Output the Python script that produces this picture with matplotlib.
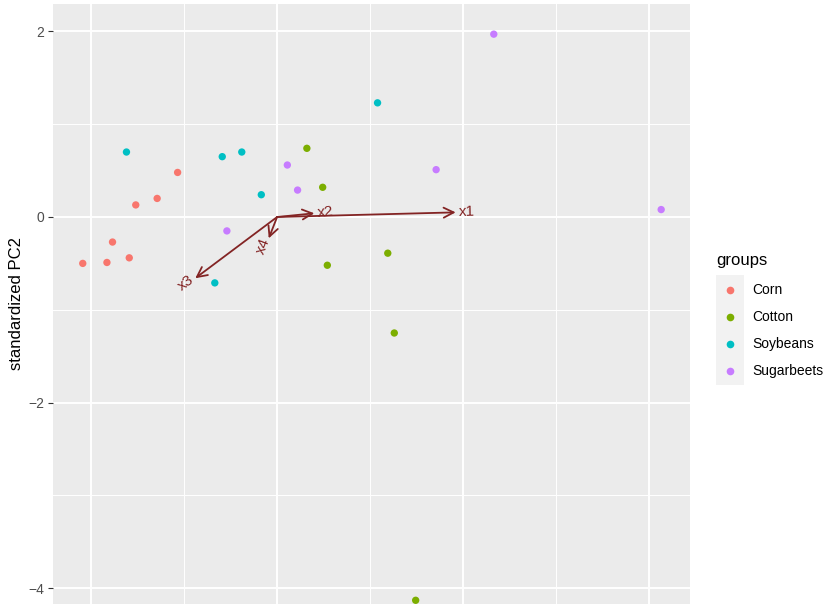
import numpy as np
import matplotlib
matplotlib.use("Agg")
import matplotlib.pyplot as plt
from matplotlib.lines import Line2D
from matplotlib.patches import Rectangle

plt.rcParams["font.family"] = ["Liberation Sans", "DejaVu Sans"]

# PC scores per group (standardized PC1, PC2)
groups = ["Corn", "Cotton", "Soybeans", "Sugarbeets"]
colors = ["#F8766D", "#7CAE00", "#00BFC4", "#C77CFF"]

corn_x = [-2.09, -1.83, -1.77, -1.59, -1.52, -1.29, -1.07]
corn_y = [-0.50, -0.49, -0.27, -0.44, 0.13, 0.20, 0.48]
cotton_x = [0.32, 0.49, 0.54, 1.19, 1.26, 1.49]
cotton_y = [0.74, 0.32, -0.52, -0.39, -1.25, -4.13]
soy_x = [-1.62, -0.59, -0.38, -0.17, -0.67, 1.08]
soy_y = [0.70, 0.65, 0.70, 0.24, -0.71, 1.23]
sugar_x = [-0.54, 0.11, 0.22, 1.71, 2.33, 4.13]
sugar_y = [-0.15, 0.56, 0.29, 0.51, 1.97, 0.08]

# variable loadings (arrows)
var_names = ["x1", "x2", "x3", "x4"]
var_x = [1.92, 0.40, -0.88, -0.09]
var_y = [0.05, 0.04, -0.66, -0.23]

xs = [corn_x, cotton_x, soy_x, sugar_x]
ys = [corn_y, cotton_y, soy_y, sugar_y]

W, H = 829, 604
fig = plt.figure(figsize=(W / 100, H / 100), dpi=100)
ax = fig.add_axes([53 / W, 0, 637 / W, 600 / H])
ax.set_facecolor("#EBEBEB")
for s in ax.spines.values():
    s.set_visible(False)

ax.set_xlim(-2.41, 4.44)
ax.set_ylim(-4.17, 2.295)

ax.set_xticks([-2, 0, 2, 4])
ax.set_xticks([-1, 1, 3], minor=True)
ax.set_yticks([-4, -2, 0, 2])
ax.set_yticks([-3, -1, 1], minor=True)
ax.set_yticklabels(["\u22124", "\u22122", "0", "2"])
ax.grid(True, which="major", color="white", lw=1.4)
ax.grid(True, which="minor", color="white", lw=0.7)
ax.set_axisbelow(True)
ax.tick_params(axis="y", which="major", length=3.5, color="#333333",
               labelcolor="#4D4D4D", labelsize=10, pad=3)
ax.tick_params(axis="y", which="minor", length=0)
ax.tick_params(axis="x", which="both", length=0, labelbottom=False)
ax.set_ylabel("standardized PC2", fontsize=12, labelpad=3)

for gx, gy, c in zip(xs, ys, colors):
    ax.scatter(gx, gy, s=28, color=c, edgecolors="none", zorder=3)

arrow_col = "#832424"
for name, vx, vy in zip(var_names, var_x, var_y):
    ax.annotate("", xy=(vx, vy), xytext=(0, 0),
                arrowprops=dict(arrowstyle="->,head_length=0.6,head_width=0.3",
                                color=arrow_col, lw=1.3, shrinkA=0, shrinkB=0,
                                mutation_scale=12), zorder=4)
    ang = np.degrees(np.arctan(vy / vx))
    ha = "left" if vx > 0 else "right"
    ax.annotate(name, xy=(vx, vy), xytext=(2 if vx > 0 else -2, 0),
                textcoords="offset points", rotation=ang,
                rotation_mode="anchor", ha=ha, va="center",
                color=arrow_col, fontsize=11, zorder=4)

# legend
fig.text(716 / W, 1 - 260 / H, "groups", fontsize=12, va="center", ha="left")
fig.add_artist(Rectangle((716 / W, 1 - 385 / H), 28 / W, 110 / H,
                         transform=fig.transFigure, color="#F2F2F2", lw=0))
for i, (g, c) in enumerate(zip(groups, colors)):
    yk = 1 - (290 + 27 * i) / H
    fig.add_artist(Line2D([730 / W], [yk], marker="o", markersize=5.5,
                          color=c, markeredgewidth=0, transform=fig.transFigure))
    fig.text(752 / W, yk, g, fontsize=10, va="center", ha="left")

fig.savefig("out.png", dpi=100)
